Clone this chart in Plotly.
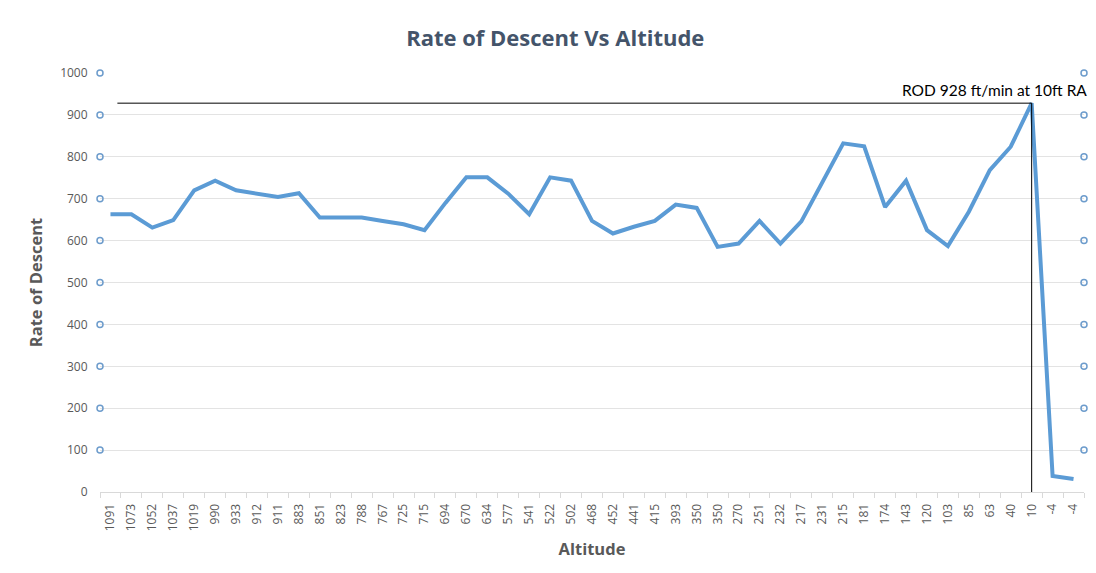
import plotly.graph_objects as go

altitude_labels = ["1091", "1073", "1052", "1037", "1019", "990", "933", "912", "911", "883",
                   "851", "823", "788", "767", "725", "715", "694", "670", "634", "577",
                   "541", "522", "502", "468", "452", "441", "415", "393", "350", "350",
                   "270", "251", "232", "217", "231", "215", "181", "174", "143", "120",
                   "103", "85", "63", "40", "10", "-4", "-4"]
rate_of_descent = [663, 663, 631, 649, 720, 743, 720, 712, 704, 713,
                   655, 655, 655, 647, 639, 625, 690, 751, 751, 712,
                   663, 751, 743, 647, 617, 633, 647, 686, 678, 585,
                   593, 647, 593, 646, 738, 832, 825, 680, 743, 625,
                   587, 669, 768, 824, 928, 38, 31]
y_ticks = [0, 100, 200, 300, 400, 500, 600, 700, 800, 900, 1000]
marker_levels = [100, 200, 300, 400, 500, 600, 700, 800, 900, 1000]
rod_value = 928
rod_label = "10"

idx = list(range(len(altitude_labels)))
n = len(idx)
rod_idx = altitude_labels.index(rod_label)

fig = go.Figure()

# axis-side circle markers (left and right)
for xpos in (-0.5, n - 0.5):
    fig.add_trace(go.Scatter(
        x=[xpos] * len(marker_levels), y=marker_levels, mode="markers",
        marker=dict(symbol="circle-open", size=6, color="#6d9ccc", line=dict(width=1.5)),
        cliponaxis=False, showlegend=False, hoverinfo="skip"))

fig.add_trace(go.Scatter(
    x=idx, y=rate_of_descent, mode="lines",
    line=dict(color="#5b9bd5", width=4),
    showlegend=False, name="Rate of Descent"))

# dummy trace on boundary axis
fig.add_trace(go.Scatter(x=[-0.5, n - 0.5], y=[None, None], xaxis="x2",
                         showlegend=False, hoverinfo="skip"))

fig.add_shape(type="line", xref="x", yref="y", x0=0.33, x1=rod_idx,
              y0=rod_value, y1=rod_value, line=dict(color="black", width=1))
fig.add_shape(type="line", xref="x", yref="y", x0=rod_idx, x1=rod_idx,
              y0=0, y1=rod_value, line=dict(color="black", width=1))

fig.add_annotation(x=1.0, xref="paper", y=rod_value, yref="y",
                   text=f"ROD {rod_value} ft/min at {rod_label}ft RA",
                   showarrow=False, xanchor="right", yanchor="bottom", yshift=2, xshift=5,
                   font=dict(family="Lato, Open Sans", size=15.5, color="black"))

fig.update_layout(
    width=1088, height=565,
    margin=dict(l=92, r=12, t=65, b=81),
    paper_bgcolor="white", plot_bgcolor="white",
    title=dict(text="<b>Rate of Descent Vs Altitude</b>", x=0.503, xanchor="center",
               y=0.947, yanchor="middle",
               font=dict(family="Open Sans", size=22, color="#44546a")),
    font=dict(family="Open Sans", color="#595959"),
    xaxis=dict(range=[-0.5, n - 0.5], tickmode="array", tickvals=idx, ticktext=altitude_labels,
               tickangle=-90, tickfont=dict(size=12, color="#595959"),
               showgrid=False, zeroline=False, showline=True, linecolor="#d9d9d9", linewidth=1,
               ticks="outside", ticklen=6, tickcolor="rgba(0,0,0,0)",
               title=dict(text="<b>Altitude</b>", standoff=13,
                          font=dict(family="Open Sans", size=16.5, color="#595959"))),
    xaxis2=dict(range=[-0.5, n - 0.5], overlaying="x", side="bottom", anchor="y",
                tickmode="array", tickvals=[i - 0.5 for i in range(n + 1)],
                showticklabels=False, ticks="outside", ticklen=5, tickcolor="#d9d9d9",
                showgrid=False, zeroline=False, showline=False),
    yaxis=dict(range=[0, 1000], tickmode="array", tickvals=y_ticks,
               tickfont=dict(size=12, color="#595959"),
               showgrid=True, gridcolor="#e3e3e3", gridwidth=1, zeroline=False,
               ticks="outside", ticklen=9, tickcolor="rgba(0,0,0,0)",
               title=dict(text="<b>Rate of Descent</b>", standoff=13,
                          font=dict(family="Open Sans", size=16.5, color="#595959"))),
)

fig.write_html("out.html")
